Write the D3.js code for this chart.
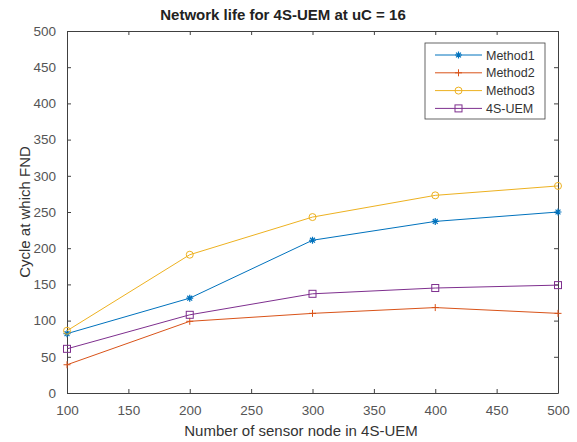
<!DOCTYPE html>
<html><head><meta charset="utf-8">
<script src="https://cdn.jsdelivr.net/npm/d3@7"></script>
<style>body{margin:0;background:#fff}svg{display:block}</style>
</head><body>
<script>
const nodes = [100, 200, 300, 400, 500];
const method1 = [82, 131, 211, 237, 250];
const method2 = [39, 99, 110, 118, 110];
const method3 = [86, 191, 243, 273, 286];
const uem4s = [61, 108, 137, 145, 149];
const seriesNames = ["Method1", "Method2", "Method3", "4S-UEM"];
const seriesColors = ["#0072BD", "#D95319", "#EDB120", "#7E2F8E"];
const seriesMarkers = ["star", "plus", "circle", "square"];
const xTicks = [100, 150, 200, 250, 300, 350, 400, 450, 500];
const yTicks = [0, 50, 100, 150, 200, 250, 300, 350, 400, 450, 500];
const titleText = "Network life for 4S-UEM at uC = 16";
const xLabel = "Number of sensor node in 4S-UEM";
const yLabel = "Cycle at which FND";

const W = 577, H = 442;
const L = 67, R = 558, T = 31, B = 393;
const FONT = "'Liberation Sans', Arial, sans-serif";
const svg = d3.select("body").append("svg").attr("width", W).attr("height", H)
  .style("font-family", FONT);

const x = d3.scaleLinear().domain([100, 500]).range([L, R]);
const y = d3.scaleLinear().domain([0, 500]).range([B, T]);
const axisColor = "#404040";

// axes
const gx = svg.append("g").attr("transform", `translate(0,${B})`)
  .call(d3.axisBottom(x).tickValues(xTicks).tickSize(-4).tickPadding(12).tickSizeOuter(0));
const gxt = svg.append("g").attr("transform", `translate(0,${T})`)
  .call(d3.axisTop(x).tickValues(xTicks).tickSize(-4).tickFormat("").tickSizeOuter(0));
const gy = svg.append("g").attr("transform", `translate(${L},0)`)
  .call(d3.axisLeft(y).tickValues(yTicks).tickSize(-4).tickPadding(11).tickSizeOuter(0));
const gyr = svg.append("g").attr("transform", `translate(${R},0)`)
  .call(d3.axisRight(y).tickValues(yTicks).tickSize(-4).tickFormat("").tickSizeOuter(0));
[gx, gxt, gy, gyr].forEach(g => {
  g.selectAll("path").attr("stroke", axisColor);
  g.selectAll("line").attr("stroke", axisColor);
  g.selectAll("text").attr("fill", "#555").style("font-size", "13.5px").style("font-family", FONT);
});

const allSeries = [method1, method2, method3, uem4s];
const line = d3.line().x((d, i) => x(nodes[i])).y(d => y(d));

function drawMarker(g, type, cx, cy, color) {
  const s = 3.5;
  if (type === "star") {
    g.append("path").attr("d",
      `M${cx - s},${cy}L${cx + s},${cy}M${cx},${cy - s}L${cx},${cy + s}M${cx - s * .7},${cy - s * .7}L${cx + s * .7},${cy + s * .7}M${cx - s * .7},${cy + s * .7}L${cx + s * .7},${cy - s * .7}`)
      .attr("stroke", color).attr("stroke-width", 1.2).attr("fill", "none");
  } else if (type === "plus") {
    g.append("path").attr("d", `M${cx - s},${cy}L${cx + s},${cy}M${cx},${cy - s}L${cx},${cy + s}`)
      .attr("stroke", color).attr("stroke-width", 1).attr("fill", "none");
  } else if (type === "circle") {
    g.append("circle").attr("cx", cx).attr("cy", cy).attr("r", s)
      .attr("stroke", color).attr("stroke-width", 1).attr("fill", "none");
  } else {
    g.append("rect").attr("x", cx - s).attr("y", cy - s).attr("width", 2 * s).attr("height", 2 * s)
      .attr("stroke", color).attr("stroke-width", 1).attr("fill", "none");
  }
}

allSeries.forEach((vals, k) => {
  const g = svg.append("g");
  g.append("path").datum(vals).attr("d", line).attr("fill", "none")
    .attr("stroke", seriesColors[k]).attr("stroke-width", 1);
  vals.forEach((v, i) => drawMarker(g, seriesMarkers[k], x(nodes[i]), y(v), seriesColors[k]));
});

// legend
const lg = svg.append("g");
lg.append("rect").attr("x", 425).attr("y", 43).attr("width", 120).attr("height", 76)
  .attr("fill", "#fff").attr("stroke", axisColor).attr("stroke-width", 0.8);
seriesNames.forEach((n, k) => {
  const yy = 55 + k * 17.8;
  lg.append("line").attr("x1", 435).attr("x2", 482).attr("y1", yy).attr("y2", yy)
    .attr("stroke", seriesColors[k]).attr("stroke-width", 1);
  drawMarker(lg, seriesMarkers[k], 458.5, yy, seriesColors[k]);
  lg.append("text").attr("x", 486).attr("y", yy + 4.5).text(n)
    .style("font-size", "12.5px").attr("fill", "#333");
});

// title and labels
svg.append("text").attr("x", 283).attr("y", 20).attr("text-anchor", "middle")
  .style("font-size", "15px").style("font-weight", "bold").attr("fill", "#222").text(titleText);
svg.append("text").attr("x", 301).attr("y", 436).attr("text-anchor", "middle")
  .style("font-size", "15px").attr("fill", "#333").text(xLabel);
svg.append("text").attr("transform", `translate(30,${(T + B) / 2}) rotate(-90)`).attr("text-anchor", "middle")
  .style("font-size", "15px").attr("fill", "#333").text(yLabel);
</script>
</body></html>
